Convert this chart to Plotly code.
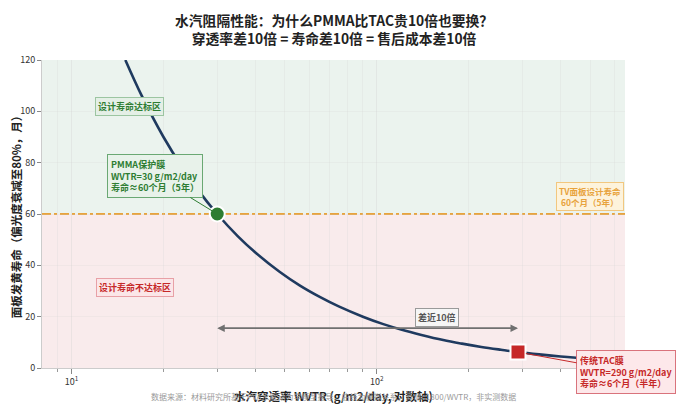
import numpy as np
import plotly.graph_objects as go

# 曲线：寿命 = 1800 / WVTR
wvtr_curve = [15, 17, 20, 23, 26, 30, 35, 40, 48, 56, 65, 75, 90, 105, 120, 140, 165, 190, 220, 255, 290, 340, 400, 470, 540, 600]
life_curve = [120, 105.9, 90, 78.3, 69.2, 60, 51.4, 45, 37.5, 32.1, 27.7, 24, 20, 17.1, 15, 12.9, 10.9, 9.5, 8.2, 7.1, 6.2, 5.3, 4.5, 3.8, 3.3, 3]

films = ["PMMA保护膜", "传统TAC膜"]
film_wvtr = [30, 290]
film_life = [60, 6.2]
design_life = 60

x_major = [10, 100]
x_major_text = ["10<sup>1</sup>", "10<sup>2</sup>"]
x_minor = [9, 20, 30, 40, 50, 60, 70, 80, 90, 200, 300, 400, 500, 600]
y_ticks = [0, 20, 40, 60, 80, 100, 120]

font = "Noto Sans CJK SC"
navy = "#1f3a5f"
green = "#2e7d32"
red = "#c62828"
orange = "#e8a33d"

fig = go.Figure()

# 背景分区
fig.add_shape(type="rect", xref="paper", yref="y", x0=0, x1=1, y0=design_life, y1=120,
              fillcolor="#ebf3ee", line_width=0, layer="below")
fig.add_shape(type="rect", xref="paper", yref="y", x0=0, x1=1, y0=0, y1=design_life,
              fillcolor="#f9ebec", line_width=0, layer="below")
fig.add_shape(type="line", xref="paper", yref="y", x0=0, x1=1, y0=design_life, y1=design_life,
              line=dict(color=orange, width=2, dash="dashdot"), layer="below")

fig.add_trace(go.Scatter(x=wvtr_curve, y=life_curve, mode="lines",
                         line=dict(color=navy, width=2.6, shape="spline"),
                         hoverinfo="skip", showlegend=False))

fig.add_trace(go.Scatter(x=[film_wvtr[0]], y=[film_life[0]], mode="markers",
                         marker=dict(symbol="circle", size=15, color=green,
                                     line=dict(color="white", width=2)),
                         showlegend=False))
fig.add_trace(go.Scatter(x=[film_wvtr[1]], y=[film_life[1]], mode="markers",
                         marker=dict(symbol="square", size=15, color=red,
                                     line=dict(color="white", width=2)),
                         showlegend=False))

ann = []
# 标题
ann.append(dict(x=0.5, y=1, xref="paper", yref="paper", xanchor="center", yanchor="bottom",
                yshift=10, showarrow=False,
                text="<b>水汽阻隔性能：为什么PMMA比TAC贵10倍也要换？<br>穿透率差10倍 = 寿命差10倍 = 售后成本差10倍</b>",
                font=dict(size=13.8, color="#222222", family=font)))
ann.append(dict(x=np.log10(15.5), y=101.7, xref="x", yref="y", showarrow=False,
                text="<b>设计寿命达标区</b>", font=dict(size=9, color=green, family=font),
                bgcolor="#e4efe6", bordercolor="#9cc5a1", borderwidth=1, borderpad=2))
ann.append(dict(x=np.log10(16.1), y=31.5, xref="x", yref="y", showarrow=False,
                text="<b>设计寿命不达标区</b>", font=dict(size=9, color=red, family=font),
                bgcolor="#fbe6e8", bordercolor="#e8a0a6", borderwidth=1, borderpad=2))
ann.append(dict(x=np.log10(film_wvtr[0]), y=film_life[0], xref="x", yref="y",
                ax=np.log10(18.8), ay=74.8, axref="x", ayref="y",
                showarrow=True, arrowhead=0, arrowcolor=green, arrowwidth=1, standoff=6,
                text="<b>" + films[0] + "<br>WVTR=30 g/m2/day<br>寿命≈60个月（5年）</b>",
                align="left", font=dict(size=9, color=green, family=font),
                bgcolor="#e8f2ea", bordercolor="#6aa873", borderwidth=1, borderpad=3))
ann.append(dict(x=np.log10(film_wvtr[1]), y=film_life[1], xref="x", yref="y",
                ax=np.log10(655), ay=-1.5, axref="x", ayref="y",
                showarrow=True, arrowhead=0, arrowcolor=red, arrowwidth=1, standoff=8,
                text="<b>" + films[1] + "<br>WVTR=290 g/m2/day<br>寿命≈6个月（半年）</b>",
                align="left", font=dict(size=9, color=red, family=font),
                bgcolor="#fde8ea", bordercolor="#d9737c", borderwidth=1, borderpad=3))
ann.append(dict(x=np.log10(500), y=67, xref="x", yref="y", showarrow=False,
                text="<b>TV面板设计寿命<br>60个月（5年）</b>", font=dict(size=8.5, color=orange, family=font),
                bgcolor="#fdf3dc", bordercolor="#f2c77f", borderwidth=1, borderpad=2))
# 差近10倍 双向箭头
ann.append(dict(x=np.log10(290), y=15.5, ax=np.log10(30), ay=15.5, xref="x", yref="y",
                axref="x", ayref="y", showarrow=True, arrowhead=2, arrowsize=1,
                arrowwidth=1.5, arrowcolor="#707070", text=""))
ann.append(dict(x=np.log10(30), y=15.5, ax=np.log10(290), ay=15.5, xref="x", yref="y",
                axref="x", ayref="y", showarrow=True, arrowhead=2, arrowsize=1,
                arrowwidth=1.5, arrowcolor="#707070", text=""))
ann.append(dict(x=np.log10(158), y=19.5, xref="x", yref="y", showarrow=False,
                text="<b>差近10倍</b>", font=dict(size=9, color="#555555", family=font),
                bgcolor="#f6f6f6", bordercolor="#9a9a9a", borderwidth=1, borderpad=2))
ann.append(dict(x=0.5, y=-0.091, xref="paper", yref="paper", yanchor="middle",
                showarrow=False,
                text="数据来源：材料研究所基于PVA水解动力学模型推导，曲线为模拟关系，寿命=1800/WVTR，非实测数据",
                font=dict(size=8, color="#9a9a9a", family=font)))

fig.update_layout(
    width=689, height=405,
    margin=dict(l=34, r=72, t=52, b=45),
    paper_bgcolor="white", plot_bgcolor="white",
    font=dict(family=font, color="#333333"),
    annotations=ann,
    showlegend=False,
)

fig.update_xaxes(type="log", range=[np.log10(8), np.log10(650)], automargin=False,
                 tickvals=x_major, ticktext=x_major_text,
                 ticks="outside", ticklen=5, tickcolor="#888888",
                 tickfont=dict(size=9, color="#333333"),
                 showline=True, linecolor="#cccccc", linewidth=1,
                 showgrid=True, gridcolor="rgba(210,210,210,0.35)",
                 minor=dict(tickvals=x_minor, ticks="outside", ticklen=3, tickcolor="#999999",
                            showgrid=True, gridcolor="rgba(210,210,210,0.25)"),
                 zeroline=False,
                 title=dict(text="<b>水汽穿透率 WVTR (g/m2/day, 对数轴)</b>", standoff=0,
                            font=dict(size=11.5, color="#222222", family=font)))
fig.update_yaxes(range=[0, 120], tickvals=y_ticks, automargin=False,
                 ticks="outside", ticklen=4, tickcolor="#888888",
                 tickfont=dict(size=9, color="#333333"),
                 showline=True, linecolor="#cccccc", linewidth=1,
                 showgrid=True, gridcolor="rgba(210,210,210,0.2)", zeroline=False,
                 title=dict(text="<b>面板发黄寿命（偏光度衰减至80%，月）</b>", standoff=4,
                            font=dict(size=11.5, color="#222222", family=font)))

fig.write_html("out.html")
